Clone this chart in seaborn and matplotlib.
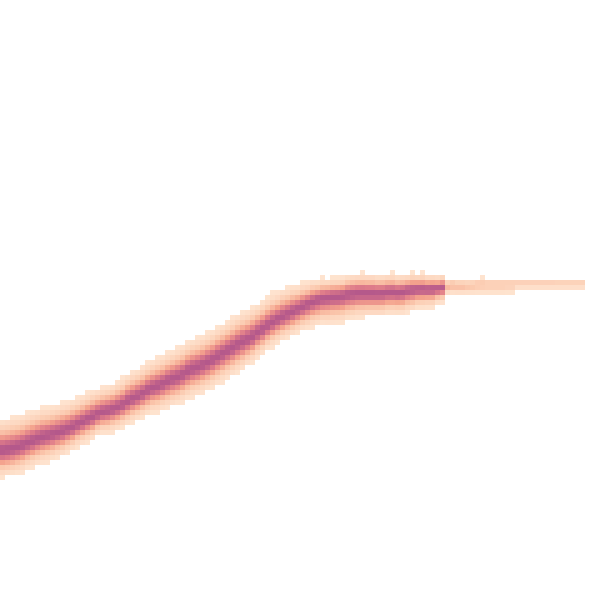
import numpy as np
import pandas as pd
import seaborn as sns
import matplotlib.pyplot as plt
from matplotlib.colors import LinearSegmentedColormap

# band, pixel coords (x every 10 px)
pos_x = list(range(0, 450, 10)) + list(range(450, 590, 10))
centre_y = [451, 449, 446, 442, 438, 435, 432, 428, 423, 418,
            413, 410, 406, 400, 395, 389, 385, 380, 376, 370,
            366, 361, 355, 349, 343, 338, 331, 324, 318, 313,
            308, 303, 299, 297, 296, 294, 293, 293, 293, 292,
            292, 290, 289, 289, 288,
            285, 285, 285, 284, 284, 284, 284, 284, 284, 284, 284, 284, 284, 284]
half_up = [29, 29, 28, 28, 27, 26, 26, 25, 24, 24,
           23, 23, 24, 25, 25, 25, 26, 26, 27, 27,
           27, 27, 27, 27, 27, 27, 26, 26, 25, 24,
           22, 20, 18, 17, 17, 18, 18, 18, 17, 17,
           16, 15, 14, 13, 12,
           4, 4, 4, 4, 4, 4, 4, 4, 4, 4, 4, 4, 4, 4]
half_down = [25, 25, 25, 24, 24, 24, 23, 22, 21, 21,
             20, 21, 21, 22, 22, 23, 24, 25, 25, 26,
             26, 26, 26, 26, 26, 24, 23, 22, 22, 22,
             22, 23, 24, 25, 25, 24, 23, 22, 22, 21,
             21, 20, 18, 17, 14,
             8, 8, 8, 8, 8, 8, 7, 3, 3, 3, 3, 3, 3, 3]
strength = [1.0] * 45 + [0.45, 0.4, 0.35, 0.35, 0.3, 0.3, 0.3,
                         0.3, 0.3, 0.3, 0.3, 0.28, 0.28, 0.28]

# local slope of the read centre line, to lay each point along the band
slope = np.gradient(np.array(centre_y, float), np.array(pos_x, float))

xs, ys, ws = [], [], []
for x0, y0, up, down, s, k in zip(pos_x, centre_y, half_up, half_down,
                                  strength, slope):
    dy = np.arange(-up, down, 0.25)
    sig = np.where(dy < 0, up, down) / 2.5
    w = s * np.exp(-0.5 * (dy / sig) ** 2)
    for dx in np.arange(-4.75, 5, 0.5):
        xs.append(np.full(len(dy), x0 + dx))
        ys.append(y0 + k * dx + dy)
        ws.append(w)
df = pd.DataFrame({'x': np.concatenate(xs), 'y': np.concatenate(ys),
                   'w': np.concatenate(ws)})

cmap = LinearSegmentedColormap.from_list(
    'band', ['#fee3cf', '#fbc9ae', '#f4a28d', '#dd7a8a', '#b4588b'])

fig = plt.figure(figsize=(6, 6), dpi=100)
ax = fig.add_axes([0, 0, 1, 1])
sns.histplot(data=df, x='x', y='y', weights='w', bins=120,
             binrange=((0, 600), (0, 600)), cmap=cmap, ax=ax)
ax.set_xlim(0, 600)
ax.set_ylim(600, 0)
ax.axis('off')
fig.savefig('out.png', dpi=100)
